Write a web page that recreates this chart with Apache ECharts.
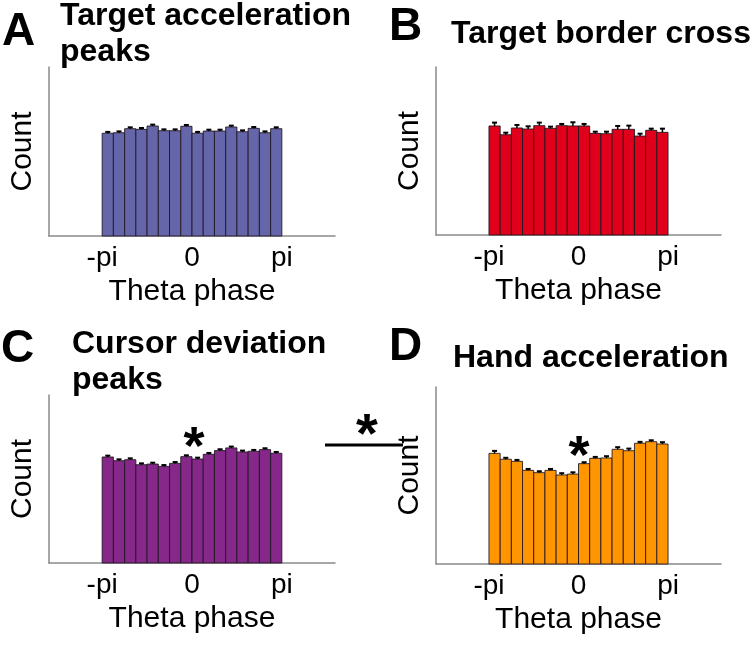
<!DOCTYPE html>
<html>
<head>
<meta charset="utf-8">
<script src="https://cdn.jsdelivr.net/npm/echarts@6.0.0/dist/echarts.min.js"></script>
<style>
html,body{margin:0;padding:0;background:#fff;}
#chart{width:750px;height:661px;}
</style>
</head>
<body>
<div id="chart"></div>
<script>
// ---- data ----
const nBins = 16;
const tickValues = [-Math.PI, 0, Math.PI];
const tickLabels = ['-pi', '0', 'pi'];
const panelLetters = ['A', 'B', 'C', 'D'];
const panelTitles = ['Target acceleration\npeaks', 'Target border cross', 'Cursor deviation\npeaks', 'Hand acceleration'];
const panelColors = ['#6565a9', '#e0001b', '#85288a', '#ff9500'];

const countsA = [60.8, 61.1, 63.5, 63.1, 65.1, 62.3, 62.3, 64.9, 60.8, 62.1, 62.1, 64.5, 61.7, 63.7, 61.1, 63.5];
const errA    = [0.8, 0.8, 0.8, 0.8, 0.8, 0.8, 0.8, 0.8, 0.8, 0.8, 0.8, 0.8, 0.8, 0.8, 0.8, 0.8];
const countsB = [64.9, 59.7, 63.7, 63.1, 65.1, 63.5, 65.1, 64.9, 64.9, 60.5, 60.3, 62.9, 62.9, 58.9, 62.3, 61.1];
const errB    = [2.0, 1.2, 1.8, 1.6, 1.8, 1.0, 1.0, 2.2, 1.2, 1.0, 1.2, 2.0, 2.2, 1.4, 1.0, 2.2];
const countsC = [63.1, 60.9, 61.5, 58.5, 58.9, 57.5, 59.3, 63.3, 61.9, 64.7, 66.9, 68.5, 66.1, 66.5, 67.5, 65.3];
const errC    = [0.8, 0.8, 0.8, 0.8, 0.8, 0.8, 0.8, 0.8, 0.8, 0.8, 0.8, 0.8, 0.8, 0.8, 0.8, 0.8];
const countsD = [62.5, 59.2, 58.0, 52.9, 51.6, 52.9, 50.3, 50.8, 56.7, 59.7, 59.9, 64.8, 64.0, 68.2, 69.1, 67.8];
const errD    = [1.4, 0.8, 0.8, 0.8, 0.8, 0.8, 1.0, 1.0, 0.8, 0.8, 1.0, 1.2, 1.2, 0.8, 0.8, 1.0];

const allCounts = [countsA, countsB, countsC, countsD];
const allErr = [errA, errB, errC, errD];

// ---- layout ----
const FONT = "'Liberation Sans', Arial, sans-serif";
const grids = [
  {left: 49, right: 415, top: 67, bottom: 425},
  {left: 436, right: 29, top: 67, bottom: 426},
  {left: 49, right: 415, top: 395, bottom: 98},
  {left: 436, right: 29, top: 387, bottom: 97}
];

const binW = 2 * Math.PI / nBins;
const xAxes = [], yAxes = [], series = [];
grids.forEach((g, i) => {
  xAxes.push({
    gridIndex: i, type: 'value', min: -5, max: 5, position: 'bottom',
    axisLine: {show: true, onZero: false, lineStyle: {color: '#8a8a8a', width: 1.5}},
    axisTick: {show: false},
    splitLine: {show: false},
    axisLabel: {
      show: true, customValues: tickValues, margin: 8,
      fontFamily: FONT, fontSize: 28, color: '#000',
      formatter: v => tickLabels[tickValues.findIndex(t => Math.abs(t - v) < 1e-6)]
    },
    name: 'Theta phase', nameLocation: 'middle', nameGap: 41,
    nameTextStyle: {fontFamily: FONT, fontSize: 30, color: '#000'}
  });
  yAxes.push({
    gridIndex: i, type: 'value', min: 0, max: 100, position: 'left',
    axisLine: {show: true, onZero: false, lineStyle: {color: '#8a8a8a', width: 1.5}},
    axisTick: {show: false}, axisLabel: {show: false}, splitLine: {show: false},
    name: 'Count', nameLocation: 'middle', nameGap: 11,
    nameTextStyle: {fontFamily: FONT, fontSize: 30, color: '#000'}
  });
  const color = panelColors[i];
  const barData = allCounts[i].map((v, k) => [-Math.PI + k * binW, -Math.PI + (k + 1) * binW, v]);
  const errData = allCounts[i].map((v, k) => [-Math.PI + (k + 0.5) * binW, v, allErr[i][k]]);
  series.push({
    type: 'custom', xAxisIndex: i, yAxisIndex: i, data: barData,
    encode: {x: [0, 1], y: 2}, silent: true,
    renderItem: (params, api) => {
      const p0 = api.coord([api.value(0), api.value(2)]);
      const p1 = api.coord([api.value(1), 0]);
      return {type: 'rect',
        shape: {x: p0[0], y: p0[1], width: p1[0] - p0[0], height: p1[1] - p0[1]},
        style: {fill: color, stroke: 'rgba(30,20,30,0.85)', lineWidth: 1}};
    }
  });
  series.push({
    type: 'custom', xAxisIndex: i, yAxisIndex: i, data: errData,
    encode: {x: 0, y: 1}, silent: true, z: 3,
    renderItem: (params, api) => {
      const c = api.value(0), v = api.value(1), e = api.value(2);
      const pLo = api.coord([c, v]);
      const pHi = api.coord([c, v + e]);
      return {type: 'group', children: [
        {type: 'line', shape: {x1: pLo[0], y1: pLo[1], x2: pHi[0], y2: pHi[1]}, style: {stroke: '#000', lineWidth: 1.5}},
        {type: 'line', shape: {x1: pHi[0] - 2.5, y1: pHi[1], x2: pHi[0] + 2.5, y2: pHi[1]}, style: {stroke: '#000', lineWidth: 2}}
      ]};
    }
  });
});

// panel letters & titles (annotation text)
const letterPos = [[2, 9], [389, 4], [1, 326], [389, 324]];
const titlePos = [[60, -2], [451, 16], [72, 326], [453, 340]];
const graphic = [];
for (let i = 0; i < 4; i++) {
  graphic.push({type: 'text', left: letterPos[i][0], top: letterPos[i][1],
    style: {text: panelLetters[i], fontFamily: FONT, fontWeight: 'bold', fontSize: 46, fill: '#000'}});
  graphic.push({type: 'text', left: titlePos[i][0], top: titlePos[i][1],
    style: {text: panelTitles[i], fontFamily: FONT, fontWeight: 'bold', fontSize: 32, lineHeight: 36, fill: '#000'}});
}
// significance stars and bar
graphic.push({type: 'text', x: 194, y: 422, style: {text: '*', align: 'center', verticalAlign: 'top', fontFamily: FONT, fontWeight: 'bold', fontSize: 54, fill: '#000'}});
graphic.push({type: 'text', x: 579, y: 431, style: {text: '*', align: 'center', verticalAlign: 'top', fontFamily: FONT, fontWeight: 'bold', fontSize: 54, fill: '#000'}});
graphic.push({type: 'text', x: 367, y: 409, style: {text: '*', align: 'center', verticalAlign: 'top', fontFamily: FONT, fontWeight: 'bold', fontSize: 56, fill: '#000'}});
graphic.push({type: 'line', shape: {x1: 325, y1: 445, x2: 403, y2: 445}, style: {stroke: '#000', lineWidth: 3}});

const chart = echarts.init(document.getElementById('chart'), null, {renderer: 'canvas'});
chart.setOption({
  animation: false,
  backgroundColor: '#fff',
  grid: grids,
  xAxis: xAxes,
  yAxis: yAxes,
  series: series,
  graphic: graphic
});
</script>
</body>
</html>
